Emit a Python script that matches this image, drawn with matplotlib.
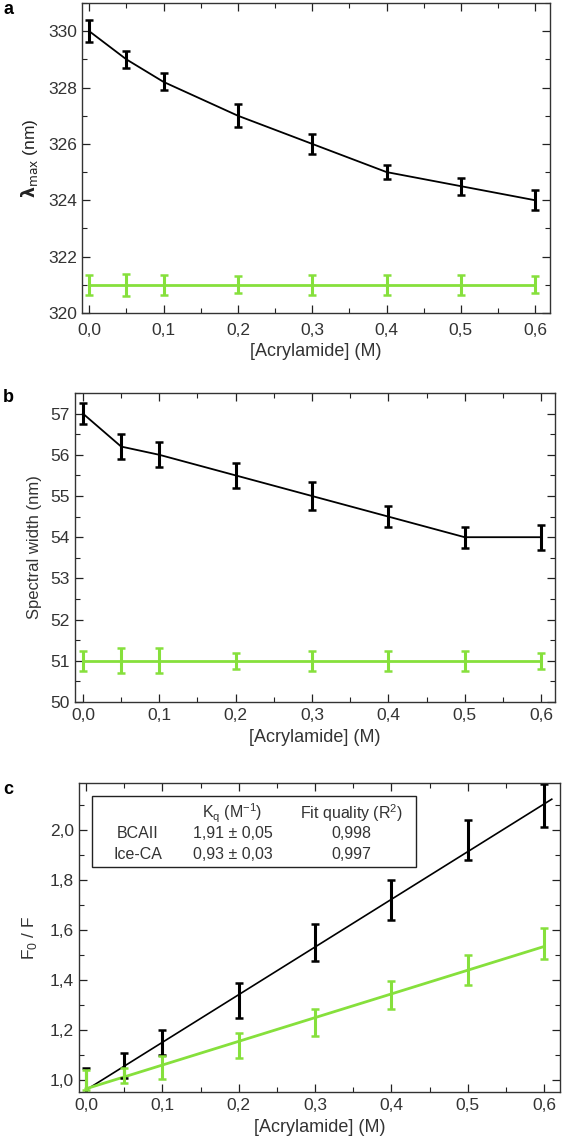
import matplotlib
matplotlib.use("Agg")
import matplotlib.pyplot as plt
import numpy as np
from matplotlib.ticker import MultipleLocator, FuncFormatter
from matplotlib.patches import Rectangle

plt.rcParams['font.family'] = ['Liberation Sans', 'DejaVu Sans']

conc = [0.0, 0.05, 0.1, 0.2, 0.3, 0.4, 0.5, 0.6]

# Panel a: lambda max
lam_bcaii = [330.0, 329.0, 328.2, 327.0, 326.0, 325.0, 324.5, 324.0]
lam_bcaii_err = [0.4, 0.3, 0.3, 0.4, 0.35, 0.25, 0.3, 0.35]
lam_ice = [321.0, 321.0, 321.0, 321.0, 321.0, 321.0, 321.0, 321.0]
lam_ice_err = [0.35, 0.4, 0.35, 0.3, 0.35, 0.35, 0.35, 0.3]

# Panel b: spectral width
sw_bcaii = [57.0, 56.2, 56.0, 55.5, 55.0, 54.5, 54.0, 54.0]
sw_bcaii_err = [0.25, 0.3, 0.3, 0.3, 0.35, 0.25, 0.25, 0.3]
sw_ice = [51.0, 51.0, 51.0, 51.0, 51.0, 51.0, 51.0, 51.0]
sw_ice_err = [0.25, 0.3, 0.3, 0.2, 0.25, 0.25, 0.25, 0.2]

# Panel c: Stern-Volmer
f_bcaii = [0.99, 1.06, 1.15, 1.32, 1.55, 1.72, 1.96, 2.10]
f_bcaii_err = [0.06, 0.05, 0.05, 0.07, 0.075, 0.08, 0.08, 0.087]
f_ice = [1.00, 1.02, 1.05, 1.14, 1.23, 1.34, 1.44, 1.547]
f_ice_err = [0.04, 0.03, 0.045, 0.05, 0.055, 0.055, 0.06, 0.064]
kq_bcaii, icpt_bcaii = 1.91, 0.96
kq_ice, icpt_ice = 0.95, 0.965

GREEN = '#86E03C'
W, H = 562, 1142
fig = plt.figure(figsize=(W/100, H/100), dpi=100)

def ax_px(l, t, r, b):
    return fig.add_axes([l/W, 1-b/H, (r-l)/W, (b-t)/H])

comma = FuncFormatter(lambda v, p: ('%.1f' % v).replace('.', ','))

def style(ax, xpad):
    ax.tick_params(which='both', direction='in', top=True, right=True,
                   labelsize=12.5, colors='#222222', labelcolor='#333333')
    ax.tick_params(which='major', length=5.5, width=0.9)
    ax.tick_params(which='minor', length=3.5, width=0.8)
    ax.tick_params(axis='x', which='both', pad=xpad)
    for s in ax.spines.values():
        s.set_linewidth(1.0)
        s.set_color('#333333')
    ax.xaxis.set_major_locator(MultipleLocator(0.1))
    ax.xaxis.set_minor_locator(MultipleLocator(0.05))
    ax.xaxis.set_major_formatter(comma)
    ax.set_xlabel('[Acrylamide] (M)', fontsize=13, color='#333333', labelpad=4)

ebkw = dict(capsize=3.2, capthick=1.8, elinewidth=2.2)

# Panel a
ax = ax_px(82, 3, 550, 313)
style(ax, 7)
ax.errorbar(conc, lam_bcaii, yerr=lam_bcaii_err, color='black', lw=1.3, **ebkw)
ax.errorbar(conc, lam_ice, yerr=lam_ice_err, color=GREEN, lw=2.0, **ebkw)
ax.set_xlim(-0.0097, 0.6198)
ax.set_ylim(320, 331)
ax.yaxis.set_major_locator(MultipleLocator(2))
ax.yaxis.set_minor_locator(MultipleLocator(1))
ax.set_ylabel(r'$\mathbf{\lambda}_{\mathrm{max}}$ (nm)', fontsize=12.5, color='#222222', labelpad=6)
fig.text(3/W, 1-10/H, 'a', fontsize=13, fontweight='bold', va='center', ha='left')

# Panel b
ax = ax_px(75, 393, 555, 702)
style(ax, 4.5)
ax.errorbar(conc, sw_bcaii, yerr=sw_bcaii_err, color='black', lw=1.3, **ebkw)
ax.errorbar(conc, sw_ice, yerr=sw_ice_err, color=GREEN, lw=2.0, **ebkw)
ax.set_xlim(-0.0104, 0.6183)
ax.set_ylim(50, 57.5)
ax.yaxis.set_major_locator(MultipleLocator(1))
ax.yaxis.set_minor_locator(MultipleLocator(0.5))
ax.set_ylabel('Spectral width (nm)', fontsize=12, color='#333333', labelpad=6)
fig.text(3/W, 1-398/H, 'b', fontsize=13, fontweight='bold', va='center', ha='left')

# Panel c
ax = ax_px(79, 783, 560, 1092)
style(ax, 4.5)
ax.plot([0.0, 0.61], [icpt_bcaii, icpt_bcaii + kq_bcaii*0.61], color='black', lw=1.2)
ax.plot([0.0, 0.6], [icpt_ice, icpt_ice + kq_ice*0.6], color=GREEN, lw=2.0)
ax.errorbar(conc, f_bcaii, yerr=f_bcaii_err, color='black', ls='none', **ebkw)
ax.errorbar(conc, f_ice, yerr=f_ice_err, color=GREEN, ls='none', **ebkw)
ax.set_xlim(-0.0092, 0.6208)
ax.set_ylim(0.952, 2.19)
ax.yaxis.set_major_locator(MultipleLocator(0.2))
ax.yaxis.set_minor_locator(MultipleLocator(0.1))
ax.yaxis.set_major_formatter(comma)
ax.set_ylabel(r'F$_\mathregular{0}$ / F', fontsize=12.5, color='#333333', labelpad=8)
fig.text(3/W, 1-790/H, 'c', fontsize=13, fontweight='bold', va='center', ha='left')

# table box
bx0, by0, bx1, by1 = 0.026, 0.729, 0.70, 0.959
ax.add_patch(Rectangle((bx0, by0), bx1-bx0, by1-by0, transform=ax.transAxes,
                       fill=True, facecolor='white', edgecolor='#222222', lw=1.0, zorder=5))
cols = [0.122, 0.319, 0.567]
rows = [0.903, 0.835, 0.767]
tkw = dict(transform=ax.transAxes, fontsize=11.5, color='#333333', ha='center', va='center', zorder=6)
ax.text(cols[1], rows[0], r'K$_\mathregular{q}$ (M$^\mathregular{-1}$)', **tkw)
ax.text(cols[2], rows[0], r'Fit quality (R$^\mathregular{2}$)', **tkw)
ax.text(cols[0], rows[1], 'BCAII', **tkw)
ax.text(cols[1], rows[1], '1,91 ± 0,05', **tkw)
ax.text(cols[2], rows[1], '0,998', **tkw)
ax.text(cols[0], rows[2], 'Ice-CA', **tkw)
ax.text(cols[1], rows[2], '0,93 ± 0,03', **tkw)
ax.text(cols[2], rows[2], '0,997', **tkw)

fig.savefig('out.png', dpi=100)
